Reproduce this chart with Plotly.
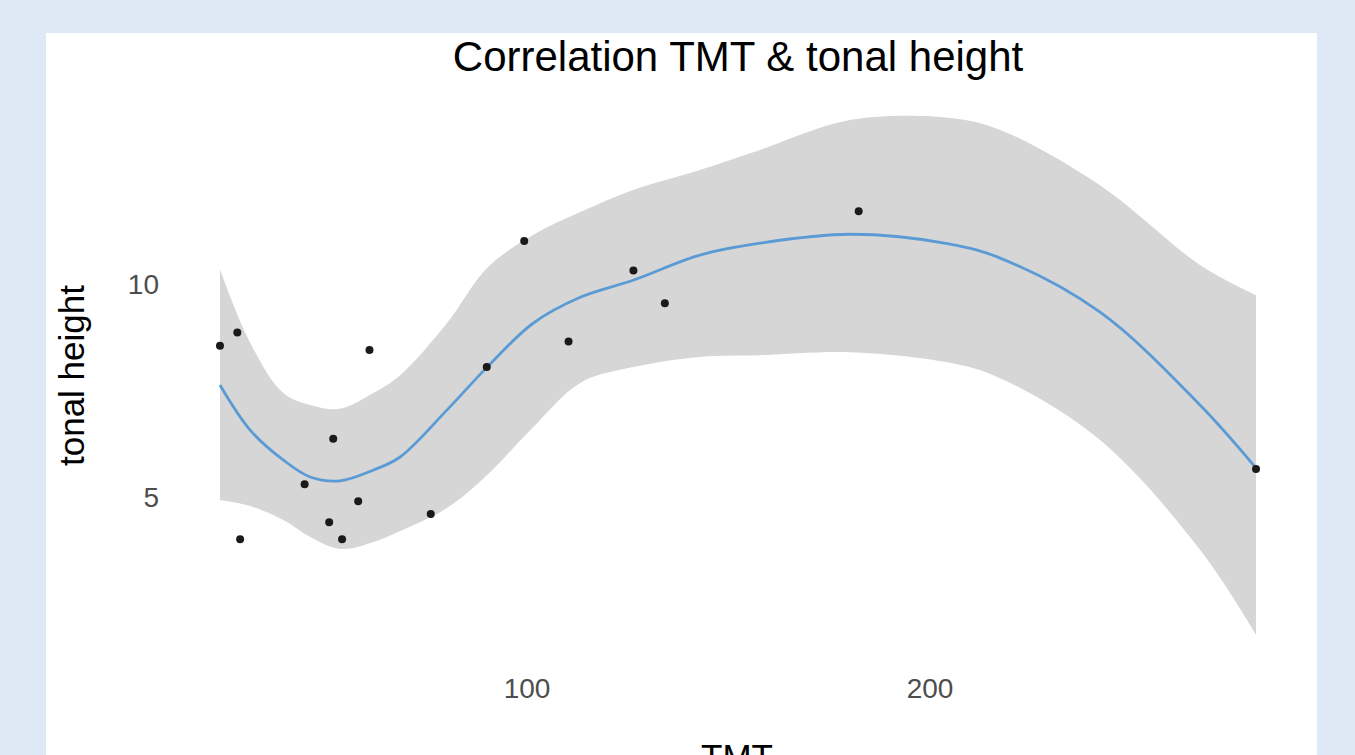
import plotly.graph_objects as go

# Observed data points
TMT = [23.8, 28.1, 60.9, 51.9, 44.8, 58.1, 50.9, 54.1, 28.8, 99.3, 126.4, 134.2, 110.3, 90.0, 76.1, 182.3, 280.9]
tonal = [8.55, 8.86, 8.45, 6.37, 5.30, 4.90, 4.41, 4.01, 4.01, 11.01, 10.32, 9.55, 8.65, 8.05, 4.60, 11.71, 5.66]

# Smoothed fit and confidence band
fit_x = [23.8, 31.3, 39.5, 46.2, 53.6, 61.8, 68.5, 80.1, 90.1, 101.5, 113.2, 126.3, 142.9, 157.8, 180.1, 205.0, 217.4, 242.2, 267.0, 280.9]
fit_y = [7.63, 6.57, 5.87, 5.47, 5.38, 5.63, 5.94, 7.04, 8.05, 9.08, 9.69, 10.09, 10.68, 10.96, 11.17, 10.94, 10.61, 9.34, 7.16, 5.68]
upper = [10.35, 8.62, 7.44, 7.16, 7.07, 7.44, 7.86, 9.08, 10.38, 11.15, 11.69, 12.21, 12.68, 13.15, 13.85, 13.90, 13.62, 12.32, 10.45, 9.74]
lower = [4.93, 4.79, 4.46, 4.06, 3.78, 3.94, 4.20, 4.74, 5.52, 6.64, 7.68, 8.05, 8.29, 8.33, 8.40, 8.15, 7.79, 6.34, 3.76, 1.76]

x_ticks = [100, 200]
y_ticks = [5, 10]

FONT = "Liberation Sans, Arial, sans-serif"

fig = go.Figure()
fig.add_trace(go.Scatter(x=fit_x, y=upper, mode="lines", line=dict(width=0, shape="spline"),
                         hoverinfo="skip", showlegend=False))
fig.add_trace(go.Scatter(x=fit_x, y=lower, mode="lines", line=dict(width=0, shape="spline"),
                         fill="tonexty", fillcolor="#d6d6d6", hoverinfo="skip", showlegend=False))
fig.add_trace(go.Scatter(x=fit_x, y=fit_y, mode="lines", line=dict(color="#5b9bd5", width=2.8, shape="spline"),
                         showlegend=False))
fig.add_trace(go.Scatter(x=TMT, y=tonal, mode="markers", marker=dict(color="#1a1a1a", size=8),
                         showlegend=False))

fig.update_layout(
    width=1355, height=755,
    margin=dict(l=168, r=47, t=89, b=94),
    paper_bgcolor="#dee9f5",
    plot_bgcolor="rgba(0,0,0,0)",
    font=dict(family=FONT),
    title=dict(text="Correlation TMT & tonal height", x=0.5, xref="paper", xanchor="center",
               y=1 - 56 / 755, yref="container", yanchor="middle",
               font=dict(size=42, color="#000000", family=FONT)),
    shapes=[dict(type="rect", xref="paper", yref="paper", layer="below",
                 x0=(46 - 168) / 1140, x1=(1317 - 168) / 1140,
                 y0=-0.3, y1=(661 - 33) / 572,
                 fillcolor="#ffffff", line=dict(width=0))],
    annotations=[
        dict(text="tonal height", textangle=-90, xref="paper", yref="paper",
             x=(71 - 168) / 1140, y=(661 - 376) / 572, xanchor="center", yanchor="middle",
             showarrow=False, font=dict(size=35, color="#000000", family=FONT)),
        dict(text="TMT", xref="paper", yref="paper",
             x=(737 - 168) / 1140, y=(661 - 735) / 572, xanchor="center", yanchor="top",
             showarrow=False, font=dict(size=35, color="#000000", family=FONT)),
    ],
)
fig.update_xaxes(range=[10.9, 293.8], tickvals=x_ticks, showgrid=False, zeroline=False, showline=False,
                 ticks="", tickfont=dict(size=28, color="#4d4d4d", family=FONT), ticklabelstandoff=8)
fig.update_yaxes(range=[1.15, 14.58], tickvals=y_ticks, showgrid=False, zeroline=False, showline=False,
                 ticks="", tickfont=dict(size=28, color="#4d4d4d", family=FONT), ticklabelstandoff=8)

fig.write_html("out.html")
